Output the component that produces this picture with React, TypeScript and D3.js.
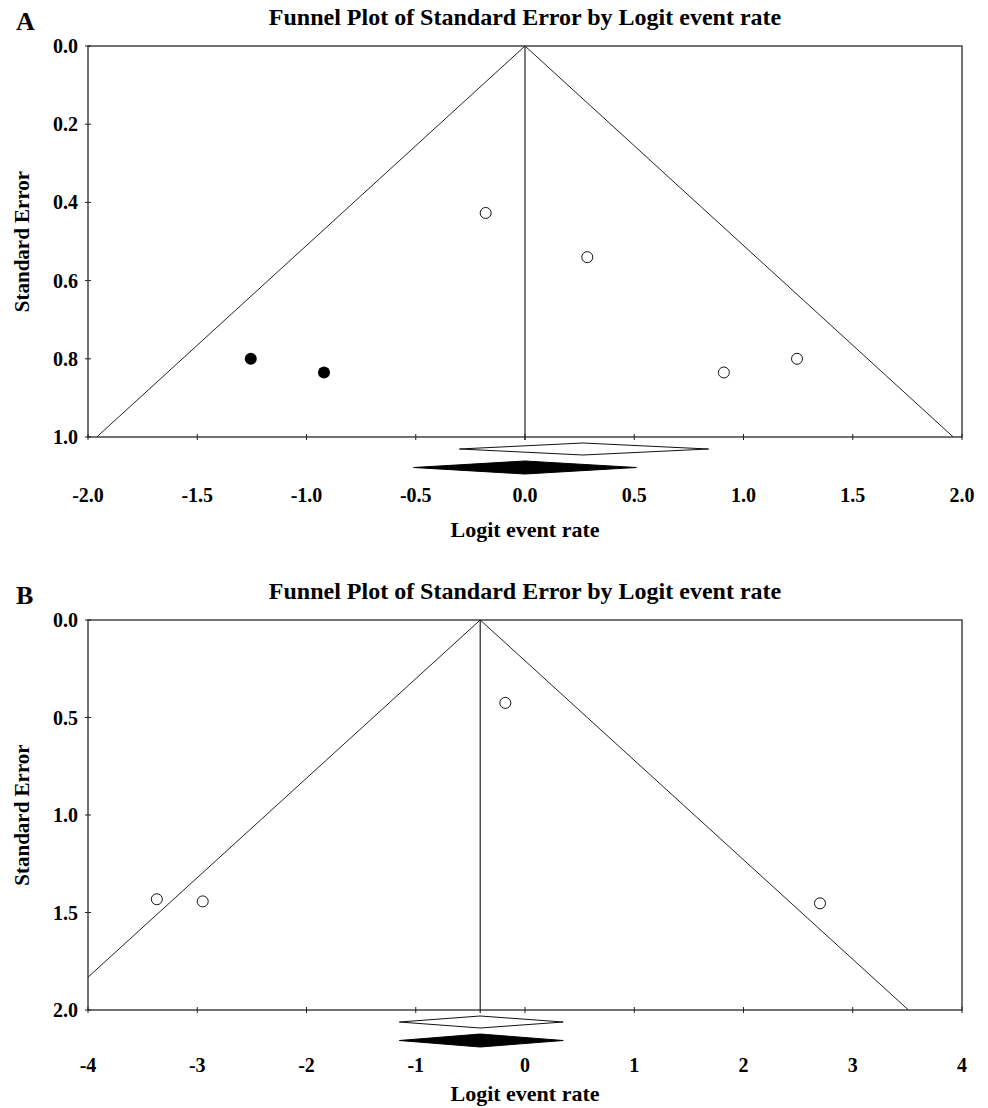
import React from "react";
import * as d3 from "d3";

// Panel A data
const aObservedX = [-0.18, 0.285, 0.91, 1.245];
const aObservedSE = [0.427, 0.54, 0.835, 0.8];
const aImputedX = [-1.255, -0.92];
const aImputedSE = [0.8, 0.835];
const aMean = 0.0;
const aObsDiamond = [-0.3, 0.265, 0.84];
const aAdjDiamond = [-0.51, 0.0, 0.51];
const aXTicks = [-2.0, -1.5, -1.0, -0.5, 0.0, 0.5, 1.0, 1.5, 2.0];
const aYTicks = [0.0, 0.2, 0.4, 0.6, 0.8, 1.0];

// Panel B data
const bObservedX = [-3.37, -2.95, -0.18, 2.7];
const bObservedSE = [1.432, 1.443, 0.425, 1.453];
const bImputedX: number[] = [];
const bImputedSE: number[] = [];
const bMean = -0.41;
const bObsDiamond = [-1.15, -0.41, 0.35];
const bAdjDiamond = [-1.15, -0.41, 0.35];
const bXTicks = [-4, -3, -2, -1, 0, 1, 2, 3, 4];
const bYTicks = [0.0, 0.5, 1.0, 1.5, 2.0];

const FONT = "'Liberation Serif', 'Times New Roman', serif";
const W = 988;
const H = 1108;

const hyphen = (f: (n: number) => string) => (d: number) => f(d).replace("\u2212", "-");

type PanelProps = {
  plotTop: number;
  plotBottom: number;
  letter: string;
  xDomain: [number, number];
  yMax: number;
  xTicks: number[];
  yTicks: number[];
  xFmt: (d: number) => string;
  yFmt: (d: number) => string;
  obsX: number[];
  obsSE: number[];
  impX: number[];
  impSE: number[];
  mean: number;
  obsDiamond: number[];
  adjDiamond: number[];
  tickGap: number;
  labelGap: number;
};

const Panel = (p: PanelProps) => {
  const left = 88;
  const right = 962;
  const { plotTop, plotBottom } = p;
  const x = d3.scaleLinear().domain(p.xDomain).range([left, right]);
  const y = d3.scaleLinear().domain([0, p.yMax]).range([plotTop, plotBottom]);
  const clipId = "clip" + p.letter;

  // 95% pseudo confidence limits
  const funnel = d3.line<[number, number]>()
    .x((d) => x(d[0]))
    .y((d) => y(d[1]));
  const leftLimit: [number, number][] = [[p.mean, 0], [p.mean - 1.96 * p.yMax, p.yMax]];
  const rightLimit: [number, number][] = [[p.mean, 0], [p.mean + 1.96 * p.yMax, p.yMax]];

  const diamond = (v: number[], cy: number, hh: number) =>
    `M${x(v[0])},${cy} L${x(v[1])},${cy - hh} L${x(v[2])},${cy} L${x(v[1])},${cy + hh} Z`;

  const stroke = "#222";
  return (
    <g>
      <defs>
        <clipPath id={clipId}>
          <rect x={left} y={plotTop} width={right - left} height={plotBottom - plotTop} />
        </clipPath>
      </defs>
      <text x={16} y={plotTop - 16} fontFamily={FONT} fontWeight="bold" fontSize={26}>
        {p.letter}
      </text>
      <text x={525} y={plotTop - 21} fontFamily={FONT} fontWeight="bold" fontSize={24} textAnchor="middle">
        Funnel Plot of Standard Error by Logit event rate
      </text>
      <rect x={left} y={plotTop} width={right - left} height={plotBottom - plotTop}
        fill="none" stroke="#444" strokeWidth={1.5} />
      <g clipPath={`url(#${clipId})`}>
        <path d={funnel(leftLimit) || ""} fill="none" stroke={stroke} strokeWidth={1} />
        <path d={funnel(rightLimit) || ""} fill="none" stroke={stroke} strokeWidth={1} />
      </g>
      <line x1={x(p.mean)} x2={x(p.mean)} y1={plotTop} y2={plotBottom + 3} stroke={stroke} strokeWidth={1.2} />
      {p.xTicks.map((t) => (
        <g key={"xt" + t}>
          <line x1={x(t)} x2={x(t)} y1={plotBottom - 3} y2={plotBottom + 3} stroke={stroke} />
          <text x={x(t)} y={plotBottom + p.tickGap} fontFamily={FONT} fontWeight="bold" fontSize={20} textAnchor="middle">
            {p.xFmt(t)}
          </text>
        </g>
      ))}
      {p.yTicks.map((t) => (
        <g key={"yt" + t}>
          <line x1={left - 3} x2={left + 3} y1={y(t)} y2={y(t)} stroke={stroke} />
          <text x={78} y={y(t) + 7} fontFamily={FONT} fontWeight="bold" fontSize={20} textAnchor="end">
            {p.yFmt(t)}
          </text>
        </g>
      ))}
      <text x={525} y={plotBottom + p.labelGap} fontFamily={FONT} fontWeight="bold" fontSize={22} textAnchor="middle">
        Logit event rate
      </text>
      <text transform={`translate(29,${(plotTop + plotBottom) / 2}) rotate(-90)`} fontFamily={FONT}
        fontWeight="bold" fontSize={21} textAnchor="middle">
        Standard Error
      </text>
      {p.obsX.map((v, i) => (
        <circle key={"o" + i} cx={x(v)} cy={y(p.obsSE[i])} r={5.5} fill="white" stroke="#111" strokeWidth={1} />
      ))}
      {p.impX.map((v, i) => (
        <circle key={"f" + i} cx={x(v)} cy={y(p.impSE[i])} r={6} fill="#000" />
      ))}
      <path d={diamond(p.obsDiamond, plotBottom + 12, 6)} fill="white" stroke="#111" strokeWidth={1} />
      <path d={diamond(p.adjDiamond, plotBottom + 30.5, 6.5)} fill="#000" stroke="#000" strokeWidth={1} />
    </g>
  );
};

const App = () => {
  return (
    <svg width={W} height={H} style={{ position: "absolute", left: 0, top: 0, background: "white" }}>
      <rect x={0} y={0} width={W} height={H} fill="white" />
      <Panel plotTop={46} plotBottom={437} letter="A" xDomain={[-2, 2]} yMax={1.0} xTicks={aXTicks} yTicks={aYTicks}
        xFmt={hyphen(d3.format(".1f"))} yFmt={d3.format(".1f")}
        obsX={aObservedX} obsSE={aObservedSE} impX={aImputedX} impSE={aImputedSE}
        mean={aMean} obsDiamond={aObsDiamond} adjDiamond={aAdjDiamond} tickGap={65} labelGap={100} />
      <Panel plotTop={620} plotBottom={1010} letter="B" xDomain={[-4, 4]} yMax={2.0} xTicks={bXTicks} yTicks={bYTicks}
        xFmt={hyphen(d3.format("d"))} yFmt={d3.format(".1f")}
        obsX={bObservedX} obsSE={bObservedSE} impX={bImputedX} impSE={bImputedSE}
        mean={bMean} obsDiamond={bObsDiamond} adjDiamond={bAdjDiamond} tickGap={62} labelGap={91} />
    </svg>
  );
};

export default App;
